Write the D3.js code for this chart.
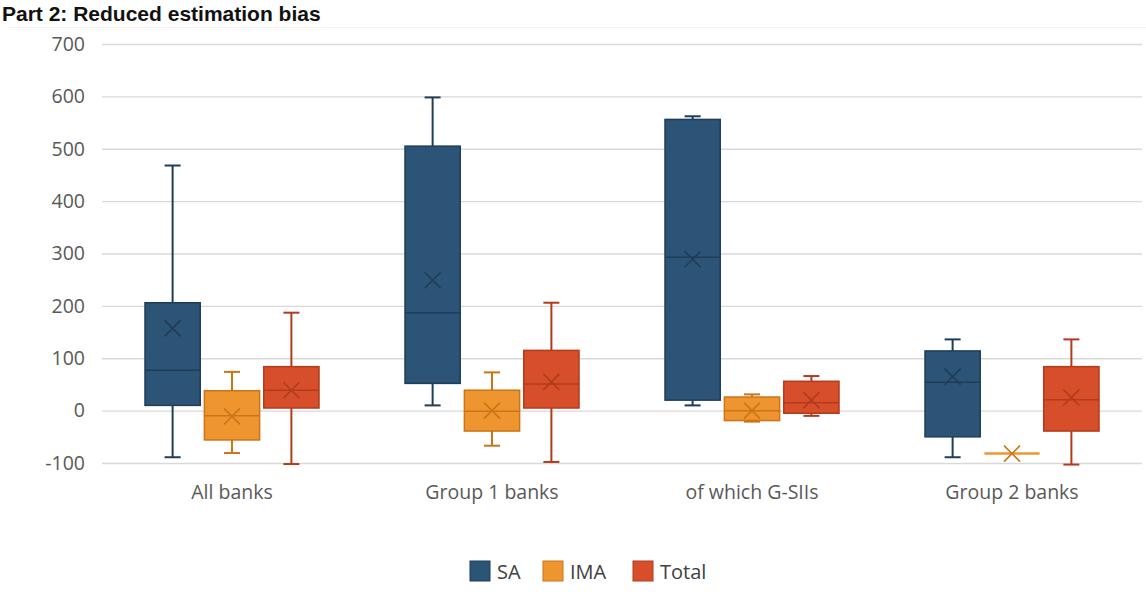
<!DOCTYPE html>
<html><head><meta charset="utf-8">
<script src="https://cdn.jsdelivr.net/npm/d3@7"></script>
<style>body{margin:0;background:#fff;} svg{display:block;}</style>
</head><body><svg id="c" width="1146" height="610"></svg>
<script>
const categories = ["All banks","Group 1 banks","of which G-SIIs","Group 2 banks"];
const seriesNames = ["SA","IMA","Total"];
const colors = ["#2c5476","#ef9530","#d64f2a"];
const strokes = ["#1f3d57","#c97618","#b23b1c"];
// [whiskerLow, q1, median, q3, whiskerHigh, mean]
const SA    = [[-89,10,77,206,468,157],[10,52,187,505,598,249],[10,20,293,556,562,289],[-89,-50,54,114,136,65]];
const IMA   = [[-81,-56,-10,38,74,-11],[-67,-39,-1,39,73,0],[-21,-19,0,26,31,0],[-82,-82,-82,-82,-82,-82]];
const Total = [[-102,5,39,84,187,39],[-98,5,51,115,206,55],[-10,-5,15,56,66,20],[-103,-39,21,84,136,25]];
const yTicks = [-100,0,100,200,300,400,500,600,700];
const seriesData = [SA, IMA, Total];

const svg = d3.select("#c");
const font = "'Open Sans', sans-serif";
svg.append("text").attr("x",2).attr("y",21).attr("font-family","Arial, 'Liberation Sans', sans-serif")
  .attr("font-weight","bold").attr("font-size",21).attr("fill","#111").text("Part 2: Reduced estimation bias");
svg.append("line").attr("x1",8).attr("x2",1146).attr("y1",27.5).attr("y2",27.5).attr("stroke","#f2f2f2");

const y = d3.scaleLinear().domain([-100,700]).range([463,44]);
const x = d3.scaleBand().domain(categories).range([102,1142]);
const xs = d3.scaleBand().domain(seriesNames).range([0, 174]).paddingInner(0.07);

const yAxis = d3.axisLeft(y).tickValues(yTicks).tickSize(-1040).tickPadding(17)
  .tickFormat(d => String(d));
const ga = svg.append("g").attr("transform","translate(102,0)").call(yAxis);
ga.select(".domain").remove();
ga.selectAll(".tick line").attr("stroke","#d9d9d9").attr("stroke-width",1.3);
ga.selectAll(".tick text").attr("font-family",font).attr("font-size",19.5).attr("fill","#595959");

const xAxis = d3.axisBottom(x).tickSize(0).tickPadding(22);
const gx = svg.append("g").attr("transform","translate(0,463)").call(xAxis);
gx.select(".domain").remove();
gx.selectAll(".tick text").attr("font-family",font).attr("font-size",19.5).attr("fill","#595959");

categories.forEach((cat, ci) => {
  const gOff = x(cat) + (x.bandwidth()-174)/2;
  seriesNames.forEach((s, si) => {
    const d = seriesData[si][ci];
    const x0 = gOff + xs(s), w = xs.bandwidth(), cx = x0 + w/2;
    const g = svg.append("g");
    const [lo,q1,med,q3,hi,mean] = d;
    g.append("line").attr("x1",cx).attr("x2",cx).attr("y1",y(hi)).attr("y2",y(q3)).attr("stroke",strokes[si]).attr("stroke-width",2);
    g.append("line").attr("x1",cx).attr("x2",cx).attr("y1",y(q1)).attr("y2",y(lo)).attr("stroke",strokes[si]).attr("stroke-width",2);
    if (hi !== q3) g.append("line").attr("x1",cx-8).attr("x2",cx+8).attr("y1",y(hi)).attr("y2",y(hi)).attr("stroke",strokes[si]).attr("stroke-width",2);
    if (lo !== q1) g.append("line").attr("x1",cx-8).attr("x2",cx+8).attr("y1",y(lo)).attr("y2",y(lo)).attr("stroke",strokes[si]).attr("stroke-width",2);
    if (q3 !== q1) {
      g.append("rect").attr("x",x0).attr("width",w).attr("y",y(q3)).attr("height",y(q1)-y(q3))
        .attr("fill",colors[si]).attr("stroke",strokes[si]).attr("stroke-width",1.5);
      g.append("line").attr("x1",x0).attr("x2",x0+w).attr("y1",y(med)).attr("y2",y(med)).attr("stroke",strokes[si]).attr("stroke-width",1.5);
    } else {
      g.append("line").attr("x1",x0).attr("x2",x0+w).attr("y1",y(med)).attr("y2",y(med)).attr("stroke",colors[si]).attr("stroke-width",2.5);
    }
    const m = 8, my = y(mean);
    g.append("path").attr("d",`M${cx-m},${my-m}L${cx+m},${my+m}M${cx-m},${my+m}L${cx+m},${my-m}`)
      .attr("stroke",strokes[si]).attr("stroke-width",1.6).attr("fill","none");
  });
});

const legX = [470, 543, 633];
const lg = svg.append("g");
seriesNames.forEach((s,i)=>{
  lg.append("rect").attr("x",legX[i]).attr("y",561).attr("width",20).attr("height",20)
    .attr("fill",colors[i]).attr("stroke",strokes[i]).attr("stroke-width",1);
  lg.append("text").attr("x",legX[i]+27).attr("y",579).attr("font-family",font).attr("font-size",20)
    .attr("fill","#404040").text(s);
});
</script></body></html>
